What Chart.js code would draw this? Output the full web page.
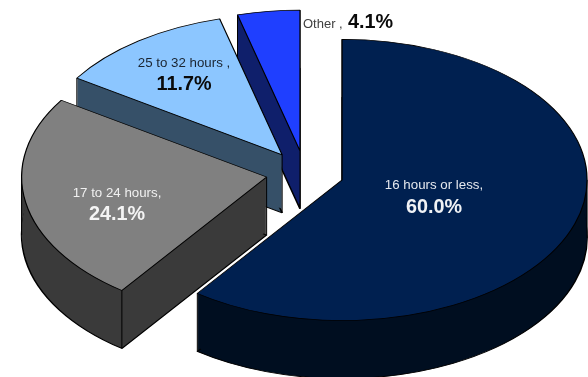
<!DOCTYPE html>
<html>
<head>
<meta charset="utf-8">
<style>
html,body{margin:0;padding:0;background:#fff;overflow:hidden}
canvas{display:block;filter:blur(0.4px)}
</style>
<script src="https://cdn.jsdelivr.net/npm/chart.js@4"></script>
</head>
<body>
<canvas id="c" width="588" height="377"></canvas>
<script>
const categories = ['16 hours or less,', '17 to 24 hours,', '25 to 32 hours ,', 'Other ,'];
const shares = [60.0, 24.1, 11.7, 4.1];
const topColors = ['#002050', '#808080', '#8cc6ff', '#1f3fff'];
const wallColors = ['#000e20', '#3a3a3a', '#365068', '#0f1f6b'];
const textColors = ['#e4e8ee', '#f0f0f0', '#1a2430', '#404040'];
const valueColors = ['#f0f2f5', '#f4f4f4', '#0a0a0a', '#0a0a0a'];

const TILT = 0.574;     // vertical squash of the pie
const DEPTH = 58;       // extrusion height, px
const EXPLODE = 39;     // slice pull-out along its mid angle
const PIE_RADIUS = 245;

function placeLabels(ctx) {
  const layout = [
    {x: 434, y: 185, vy: 208},
    {x: 117, y: 193, vy: 215},
    {x: 184, y: 63, vy: 85}
  ];
  ctx.textBaseline = 'middle';
  ctx.textAlign = 'center';
  layout.forEach((l, i) => {
    ctx.font = '13.3px "Liberation Sans"';
    ctx.fillStyle = textColors[i];
    ctx.fillText(categories[i], l.x, l.y);
    ctx.font = 'bold 19.8px "Liberation Sans"';
    ctx.fillStyle = valueColors[i];
    ctx.fillText(shares[i].toFixed(1) + '%', l.x, l.vy);
  });
  ctx.textAlign = 'left';
  ctx.textBaseline = 'alphabetic';
  ctx.font = '13px "Liberation Sans"';
  ctx.fillStyle = textColors[3];
  ctx.fillText(categories[3], 303, 28);
  ctx.font = 'bold 19.8px "Liberation Sans"';
  ctx.fillStyle = valueColors[3];
  ctx.fillText(shares[3].toFixed(1) + '%', 348, 28);
}

function withOptions(arc, extra, fn) {
  const saved = arc.options;
  const o = Object.create(saved);
  Object.assign(o, extra);
  arc.options = o;
  fn();
  arc.options = saved;
}

const pie3d = {
  id: 'pie3d',
  beforeDatasetsDraw(chart) {
    const ctx = chart.ctx;
    const arcs = chart.getDatasetMeta(0).data;
    for (let i = arcs.length - 1; i >= 0; i--) {
      const arc = arcs[i];
      const {x, y, startAngle, endAngle, outerRadius} = arc;
      const mid = (startAngle + endAngle) / 2;
      const ex = Math.cos(mid) * EXPLODE;
      const ey = Math.sin(mid) * EXPLODE;
      const cx = x + ex;
      const cy = y + ey * TILT;
      const face = (target, dy, extra) => {
        target.save();
        target.translate(cx, cy + dy);
        target.scale(1, TILT);
        target.translate(-x, -y);
        if (extra) withOptions(arc, extra, () => arc.draw(target));
        else arc.draw(target);
        target.restore();
      };
      // swept wall on a layer of its own, then flattened to one exact colour
      const layer = document.createElement('canvas');
      layer.width = chart.width;
      layer.height = chart.height;
      const lctx = layer.getContext('2d');
      for (let d = DEPTH; d > 0; d -= 1) {
        face(lctx, d, {backgroundColor: wallColors[i], borderColor: wallColors[i], borderWidth: 0});
      }
      lctx.globalCompositeOperation = 'source-in';
      lctx.fillStyle = wallColors[i];
      lctx.fillRect(0, 0, layer.width, layer.height);
      ctx.drawImage(layer, 0, 0);
      // lower rim outline only
      ctx.save();
      ctx.beginPath();
      ctx.rect(0, 0, chart.width, chart.height);
      ctx.moveTo(cx, cy + DEPTH - 4);
      ctx.ellipse(cx, cy + DEPTH - 4, outerRadius, outerRadius * TILT, 0, startAngle, endAngle);
      ctx.closePath();
      ctx.clip('evenodd');
      face(ctx, DEPTH, {backgroundColor: 'rgba(0,0,0,0)', borderColor: '#000', borderWidth: 1.6});
      ctx.restore();
      // vertical edges
      const tangents = [0, Math.PI, Math.PI * 2, Math.PI * 3]
        .filter(a => a > startAngle && a < endAngle);
      const pts = [[cx, cy]];
      [startAngle, endAngle, ...tangents].forEach(a => {
        pts.push([cx + Math.cos(a) * outerRadius, cy + Math.sin(a) * outerRadius * TILT]);
      });
      ctx.save();
      ctx.strokeStyle = '#000';
      ctx.lineWidth = 1;
      pts.forEach(p => {
        ctx.beginPath();
        ctx.moveTo(p[0], p[1]);
        ctx.lineTo(p[0], p[1] + DEPTH);
        ctx.stroke();
      });
      ctx.restore();
      face(ctx, 0);
    }
    placeLabels(ctx);
    return false;
  }
};

new Chart(document.getElementById('c'), {
  type: 'pie',
  data: {
    labels: categories,
    datasets: [{
      data: shares,
      backgroundColor: topColors,
      borderColor: '#000',
      borderWidth: 1.2,
      offset: 0,
      hoverOffset: 0
    }]
  },
  options: {
    responsive: false,
    animation: false,
    radius: PIE_RADIUS,
    layout: {padding: {left: 22, right: 0, top: 0, bottom: 31}},
    plugins: {legend: {display: false}, tooltip: {enabled: false}, title: {display: false}}
  },
  plugins: [pie3d]
});
</script>
</body>
</html>
